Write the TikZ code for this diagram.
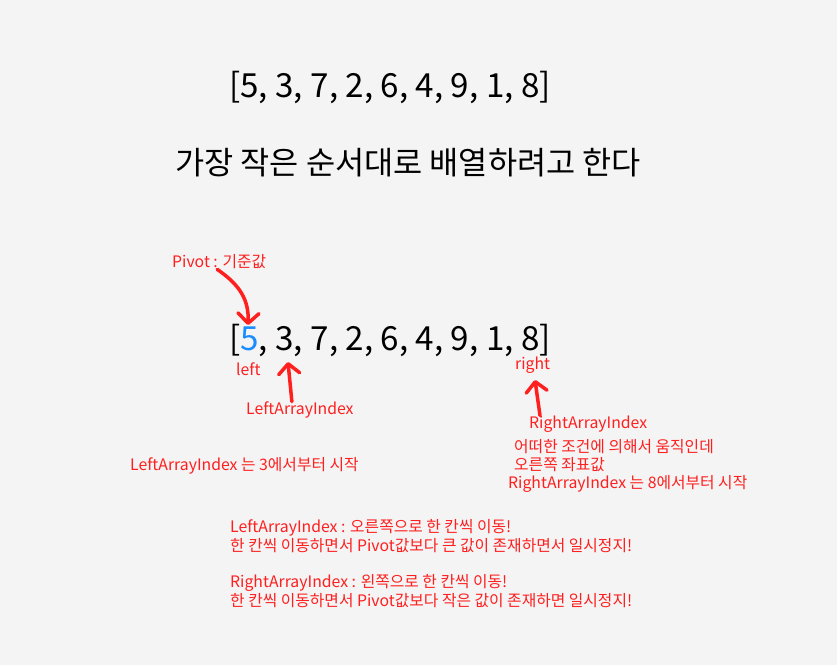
\documentclass[tikz,border=0pt]{standalone}
\usepackage{fontspec}
\setmainfont{Noto Sans CJK KR}
\usetikzlibrary{arrows.meta,positioning}
\definecolor{bgpaper}{HTML}{F4F4F4}
\definecolor{notered}{HTML}{FF1F1F}
\definecolor{pivotblue}{HTML}{1A8CFF}

\begin{document}
\begin{tikzpicture}[x=1pt, y=-1pt, every node/.style={inner sep=0pt, anchor=west}, big/.style={font=\fontsize{33.2}{38}\selectfont}, title/.style={font=\fontsize{31.7}{38}\selectfont}, note/.style={text=notered, font=\fontsize{15.8}{19}\selectfont}, arr/.style={-{Straight Barb[round,length=10pt,width=21pt]}, line width=3.5pt, draw=notered, line cap=round}]
\fill[bgpaper] (0,0) rectangle (837,665);
\node[big] (arrtop) at (229,88) {[5, 3, 7, 2, 6, 4, 9, 1, 8]};
\node[title] (goal) at (175,163) {가장 작은 순서대로 배열하려고 한다};
\node[big] (arrmid) at (229,340) {[{\color{pivotblue}5}, 3, 7, 2, 6, 4, 9, 1, 8]};
\node[note] (pivotlbl) at (172,262) {Pivot : 기준값};
\node[note] (leftlbl) at (236,369) {left};
\node[note] (rightlbl) at (515,365) {right};
\node[note] (leftidx) at (246,410) {LeftArrayIndex};
\node[note] (rightidx) at (529,424) {RightArrayIndex};
\node[note, align=left, font=\fontsize{15.8}{18}\selectfont] (rightnote) at (514,456) {어떠한 조건에 의해서 움직인데\\오른쪽 좌표값};
\node[note] (rightstart) at (508,484) {RightArrayIndex 는 8에서부터 시작};
\node[note] (leftstart) at (130,466) {LeftArrayIndex 는 3에서부터 시작};
\node[note, align=left] (leftrule) at (230,536) {LeftArrayIndex : 오른쪽으로 한 칸씩 이동!\\한 칸씩 이동하면서 Pivot값보다 큰 값이 존재하면서 일시정지!};
\node[note, align=left] (rightrule) at (230,591) {RightArrayIndex : 왼쪽으로 한 칸씩 이동!\\한 칸씩 이동하면서 Pivot값보다 작은 값이 존재하면 일시정지!};
% arrow tips
\coordinate (pivottip) at (248,325);
\coordinate (lefttip) at (288,362);
\coordinate (righttip) at (535,380);
\draw[arr] ([xshift=-2pt]pivotlbl.south) .. controls (240,285) and (249,300) .. (pivottip);
\draw[arr] ([xshift=-8pt]leftidx.north) -- (lefttip);
\draw[arr] ([xshift=11pt]rightidx.north west) -- (righttip);
\end{tikzpicture}
\end{document}
